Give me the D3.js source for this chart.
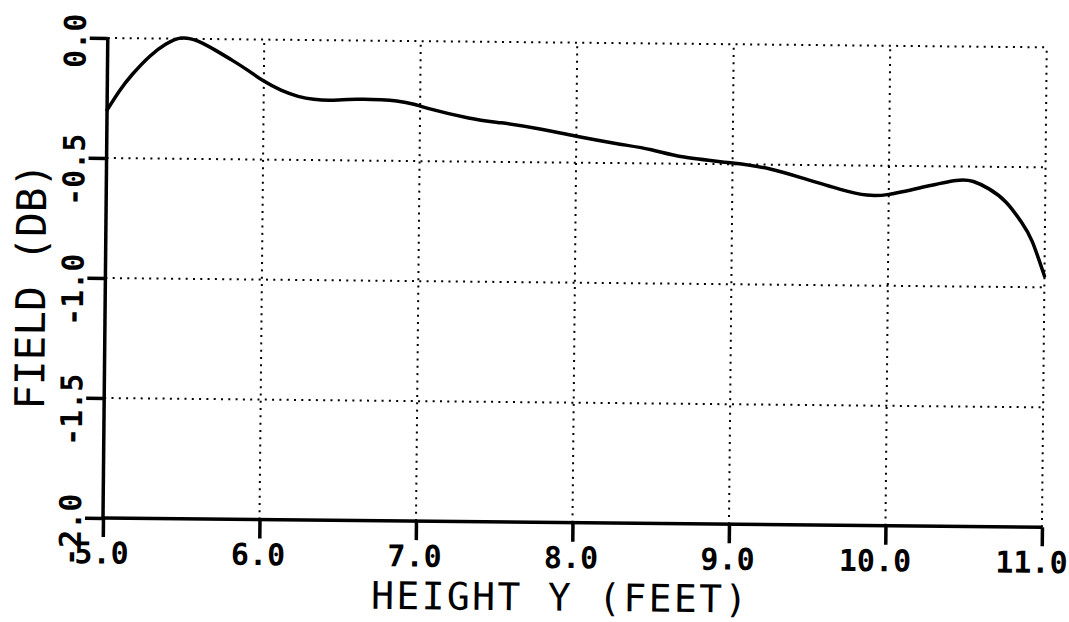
<!DOCTYPE html>
<html>
<head>
<meta charset="utf-8">
<script src="https://cdn.jsdelivr.net/npm/d3@7"></script>
<style>
  html, body { margin: 0; padding: 0; background: #fff; }
  svg { display: block; }
  text { font-family: "DejaVu Sans Mono", monospace; fill: #000; }
</style>
</head>
<body>
<svg id="chart" width="1069" height="622"></svg>
<script>
// ---- data ----
const heightY = [5.0, 5.08, 5.16, 5.27, 5.37, 5.47, 5.58, 5.69, 5.8, 5.9, 6.0, 6.11, 6.22, 6.32, 6.43,
  6.54, 6.64, 6.75, 6.85, 6.96, 7.05, 7.31, 7.52, 7.74, 8.0, 8.27, 8.48, 8.69, 9.0, 9.24, 9.45,
  9.69, 9.86, 10.0, 10.22, 10.43, 10.54, 10.64, 10.75, 10.85, 10.92, 11.0];
const fieldDB = [-0.30, -0.218, -0.150, -0.074, -0.024, 0.003, -0.010, -0.047, -0.089, -0.130, -0.173,
  -0.21, -0.235, -0.247, -0.25, -0.246, -0.245, -0.246, -0.25, -0.263, -0.28, -0.318, -0.337, -0.358,
  -0.39, -0.42, -0.443, -0.472, -0.495, -0.518, -0.555, -0.60, -0.623, -0.619, -0.587, -0.558,
  -0.562, -0.592, -0.647, -0.73, -0.81, -0.953];
const xTicks = [5, 6, 7, 8, 9, 10, 11];
const xTickLabels = ["5.0", "6.0", "7.0", "8.0", "9.0", "10.0", "11.0"];
const yTicks = [0, -0.5, -1.0, -1.5, -2.0];
const yTickLabels = ["0.0", "-0.5", "-1.0", "-1.5", "-2.0"];
const xTitle = "HEIGHT Y (FEET)";
const yTitle = "FIELD (DB)";

// ---- layout ----
const x0 = 103, x1 = 1042, yTop = 38, yBot = 518;
const svg = d3.select("#chart");
const g = svg.append("g").attr("transform", `rotate(0.57, ${x0}, ${yBot})`);

const x = d3.scaleLinear().domain([5, 11]).range([x0, x1]);
const y = d3.scaleLinear().domain([-2, 0]).range([yBot, yTop]);

// grid (dotted)
const dots = "2,5.3";
g.append("g").selectAll("line").data(xTicks.slice(1)).join("line")
  .attr("x1", d => x(d)).attr("x2", d => x(d)).attr("y1", yBot).attr("y2", yTop)
  .attr("stroke", "#000").attr("stroke-width", 2).attr("stroke-dasharray", dots);
g.append("g").selectAll("line").data(yTicks.slice(0, -1)).join("line")
  .attr("x1", x0).attr("x2", x1).attr("y1", d => y(d)).attr("y2", d => y(d))
  .attr("stroke", "#000").attr("stroke-width", 2).attr("stroke-dasharray", dots);

// axes
const xAxis = d3.axisBottom(x).tickValues(xTicks).tickSize(19).tickFormat("");
const yAxis = d3.axisLeft(y).tickValues(yTicks).tickSize(18).tickFormat("");
const gx = g.append("g").attr("transform", `translate(0,${yBot})`).call(xAxis);
const gy = g.append("g").attr("transform", `translate(${x0},0)`).call(yAxis);
[gx, gy].forEach(a => {
  a.select(".domain").attr("stroke", "#000").attr("stroke-width", 3.5)
    .attr("d", a === gx ? `M${x0},0H${x1}` : `M0,${yTop}V${yBot}`);
  a.selectAll(".tick line").attr("stroke", "#000").attr("stroke-width", 3.5);
});

// tick labels
g.append("g").selectAll("text").data(xTicks).join("text")
  .attr("x", d => x(d) + 26).attr("y", yBot + 45.5)
  .attr("text-anchor", "end").attr("font-size", 30).attr("font-weight", "bold")
  .text((d, i) => xTickLabels[i]);
g.append("g").selectAll("text").data(yTicks).join("text")
  .attr("transform", d => `translate(${x0 - 22},${y(d) - 24}) rotate(-90)`)
  .attr("text-anchor", "end").attr("font-size", 30).attr("font-weight", "bold")
  .text((d, i) => yTickLabels[i]);

// titles
g.append("text").attr("x", 560).attr("y", yBot + 88)
  .attr("text-anchor", "middle").attr("font-size", 38)
  .attr("textLength", 376).attr("lengthAdjust", "spacing").text(xTitle);
g.append("text").attr("transform", `translate(${x0 - 60},287) rotate(-90)`)
  .attr("text-anchor", "middle").attr("font-size", 41).text(yTitle);

// curve
const pts = heightY.map((h, i) => [h, fieldDB[i]]);
const line = d3.line().x(d => x(d[0])).y(d => y(d[1])).curve(d3.curveNatural);
g.append("path").datum(pts).attr("d", line)
  .attr("fill", "none").attr("stroke", "#000").attr("stroke-width", 3.5)
  .attr("stroke-linejoin", "round").attr("stroke-linecap", "round");
</script>
</body>
</html>
